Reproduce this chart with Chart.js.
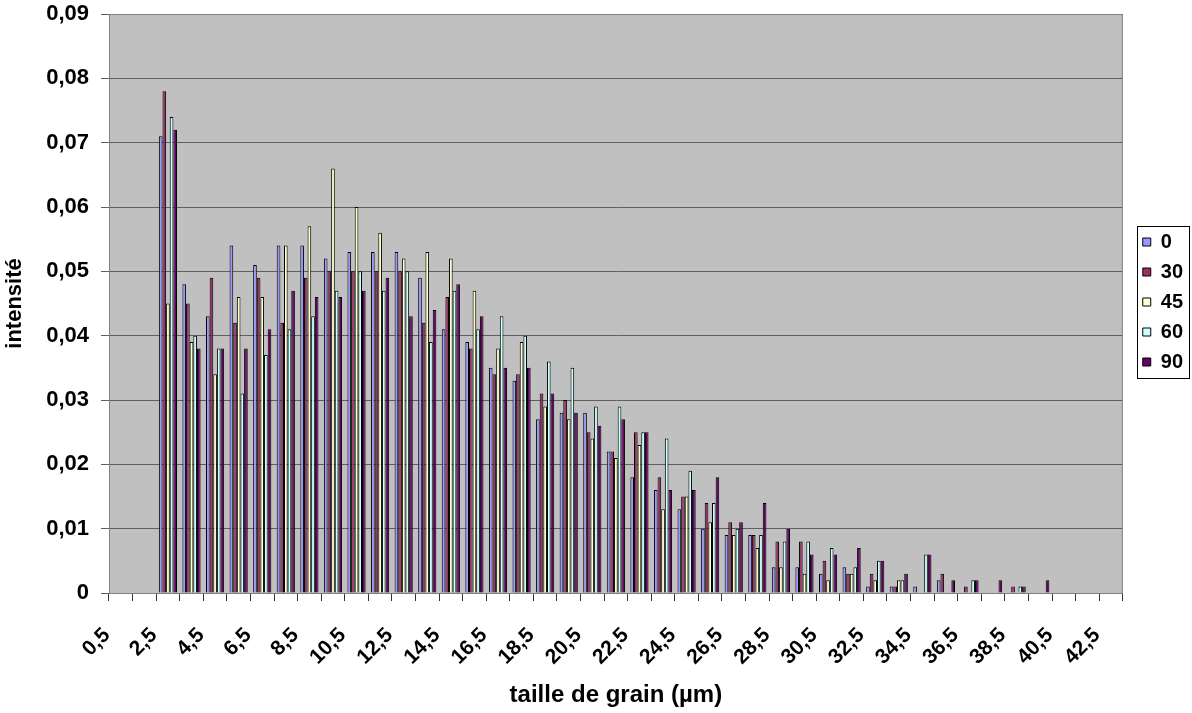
<!DOCTYPE html>
<html>
<head>
<meta charset="utf-8">
<script src="https://cdn.jsdelivr.net/npm/chart.js@4.4.0/dist/chart.umd.min.js"></script>
<style>
  html, body { margin: 0; padding: 0; background: #fff; }
  #cadre { width: 1192px; height: 713px; }
</style>
</head>
<body>
<div id="cadre"><canvas id="grafico"></canvas></div>
<script>
// classes de taille de grain (µm)
const tailles = [
  "0,5", "1,5", "2,5", "3,5", "4,5", "5,5", "6,5", "7,5", "8,5", "9,5",
  "10,5", "11,5", "12,5", "13,5", "14,5", "15,5", "16,5", "17,5", "18,5", "19,5",
  "20,5", "21,5", "22,5", "23,5", "24,5", "25,5", "26,5", "27,5", "28,5", "29,5",
  "30,5", "31,5", "32,5", "33,5", "34,5", "35,5", "36,5", "37,5", "38,5", "39,5",
  "40,5", "41,5", "42,5"
];

// intensité par angle (null = pas de barre)
const serie0 = [
  null, null, 0.071, 0.048, 0.043, 0.054, 0.051, 0.054, 0.054, 0.052,
  0.053, 0.053, 0.053, 0.049, 0.041, 0.039, 0.035, 0.033, 0.027, 0.028,
  0.028, 0.022, 0.018, 0.016, 0.013, 0.010, 0.009, 0.009, 0.004, 0.004,
  0.003, 0.004, 0.001, 0.001, 0.001, 0.002, null, null, null, null,
  null, null, null
];
const serie30 = [
  null, null, 0.078, 0.045, 0.049, 0.042, 0.049, 0.042, 0.049, 0.050,
  0.050, 0.050, 0.050, 0.042, 0.046, 0.038, 0.034, 0.034, 0.031, 0.030,
  0.025, 0.022, 0.025, 0.018, 0.015, 0.014, 0.011, 0.009, 0.008, 0.008,
  0.005, 0.003, 0.003, 0.001, null, 0.003, 0.001, null, 0.001, null,
  null, null, null
];
const serie45 = [
  null, null, 0.045, 0.039, 0.034, 0.046, 0.046, 0.054, 0.057, 0.066,
  0.060, 0.056, 0.052, 0.053, 0.052, 0.047, 0.038, 0.039, 0.029, 0.027,
  0.024, 0.021, 0.023, 0.013, 0.015, 0.011, 0.009, 0.007, 0.004, 0.003,
  0.002, 0.003, 0.002, 0.002, null, null, null, null, null, null,
  null, null, null
];
const serie60 = [
  null, null, 0.074, 0.040, 0.038, 0.031, 0.037, 0.041, 0.043, 0.047,
  0.050, 0.047, 0.050, 0.039, 0.047, 0.041, 0.043, 0.040, 0.036, 0.035,
  0.029, 0.029, 0.025, 0.024, 0.019, 0.014, 0.010, 0.009, 0.008, 0.008,
  0.007, 0.004, 0.005, 0.002, 0.006, null, 0.002, null, 0.001, null,
  null, null, null
];
const serie90 = [
  null, null, 0.072, 0.038, 0.038, 0.038, 0.041, 0.047, 0.046, 0.046,
  0.047, 0.049, 0.043, 0.044, 0.048, 0.043, 0.035, 0.035, 0.031, 0.028,
  0.026, 0.027, 0.025, 0.016, 0.016, 0.018, 0.011, 0.014, 0.010, 0.006,
  0.006, 0.007, 0.005, 0.003, 0.006, 0.002, 0.002, 0.002, 0.001, 0.002,
  null, null, null
];

const angles = ["0", "30", "45", "60", "90"];
const couleurs = ["#9999FF", "#993366", "#FFFFCC", "#CCFFFF", "#660066"];
const series = [serie0, serie30, serie45, serie60, serie90];

const police = "'Liberation Sans', Arial, sans-serif";
Chart.defaults.font.family = police;
Chart.defaults.color = "#000";

// fond gris de la zone de tracé
const fondZone = {
  id: "fondZone",
  beforeDraw(chart) {
    const { ctx, chartArea: a } = chart;
    ctx.save();
    ctx.fillStyle = "#C0C0C0";
    ctx.fillRect(a.left, a.top, a.right - a.left, a.bottom - a.top);
    ctx.restore();
  },
  beforeDatasetsDraw(chart) {
    const { ctx, chartArea: a } = chart;
    ctx.save();
    ctx.strokeStyle = "#808080";
    ctx.lineWidth = 1;
    ctx.strokeRect(a.left + 0.5, a.top + 0.5, a.right - a.left - 1, a.bottom - a.top);
    ctx.restore();
  }
};

// légende : on la place à droite, un peu plus haut, avec un cadre
const cadreLegende = {
  id: "cadreLegende",
  afterLayout(chart) {
    const lg = chart.legend;
    const dy = 222 - lg.top;
    lg.left += 10;
    lg.right += 10;
    lg.top += dy;
    lg.bottom += dy;
  },
  afterDraw(chart) {
    const boites = chart.legend.legendHitBoxes;
    if (!boites || !boites.length) return;
    let x0 = Infinity, y0 = Infinity, x1 = -Infinity, y1 = -Infinity;
    boites.forEach((b) => {
      x0 = Math.min(x0, b.left);
      y0 = Math.min(y0, b.top);
      x1 = Math.max(x1, b.left + b.width);
      y1 = Math.max(y1, b.top + b.height);
    });
    const { ctx } = chart;
    ctx.save();
    ctx.strokeStyle = "#000";
    ctx.lineWidth = 1;
    ctx.strokeRect(Math.round(x0 - 6) + 0.5, Math.round(y0 - 6) + 0.5,
      Math.round(x1 - x0 + 12), Math.round(y1 - y0 + 12));
    ctx.restore();
  }
};

const grafico = new Chart(document.getElementById("grafico"), {
  type: "bar",
  data: {
    labels: tailles,
    datasets: series.map((valeurs, i) => ({
      label: angles[i],
      data: valeurs,
      backgroundColor: couleurs[i],
      borderColor: "#000",
      borderWidth: 1,
      borderSkipped: "bottom",
      categoryPercentage: 0.77,
      barPercentage: 1
    }))
  },
  options: {
    responsive: true,
    maintainAspectRatio: false,
    animation: false,
    layout: { padding: { top: 14, right: 9, bottom: 0, left: 0 } },
    plugins: {
      tooltip: { enabled: false },
      legend: {
        position: "right",
        align: "start",
        labels: {
          boxWidth: 8,
          boxHeight: 8,
          padding: 10,
          font: { size: 20, weight: "bold" },
          color: "#000"
        }
      }
    },
    scales: {
      x: {
        grid: {
          drawOnChartArea: false,
          drawTicks: true,
          tickLength: 8,
          color: "#333"
        },
        border: { color: "#333", width: 1 },
        ticks: {
          autoSkip: false,
          minRotation: 45,
          maxRotation: 45,
          padding: 22,
          labelOffset: -14,
          font: { size: 21, weight: "bold" },
          callback: (v, i) => (i % 2 === 0 ? tailles[i] : "")
        },
        title: {
          display: true,
          text: "taille de grain (µm)",
          font: { size: 24, weight: "bold" },
          padding: { top: 0, bottom: 3 }
        },
        afterFit(scale) { scale.height = 120; }
      },
      y: {
        min: 0,
        max: 0.09,
        grid: { color: "#5f5f5f", tickLength: 8 },
        border: { color: "#333", width: 1 },
        ticks: {
          stepSize: 0.01,
          padding: 12,
          font: { size: 22, weight: "bold" },
          callback: (v) => (v === 0 ? "0" : v.toFixed(2).replace(".", ","))
        },
        title: {
          display: true,
          text: "intensité",
          font: { size: 22, weight: "bold" },
          padding: { top: 2, bottom: 0 }
        },
        afterFit(scale) {
          scale.width = 109;
          scale.paddingTop = 0;
        }
      }
    }
  },
  plugins: [fondZone, cadreLegende]
});
</script>
</body>
</html>
